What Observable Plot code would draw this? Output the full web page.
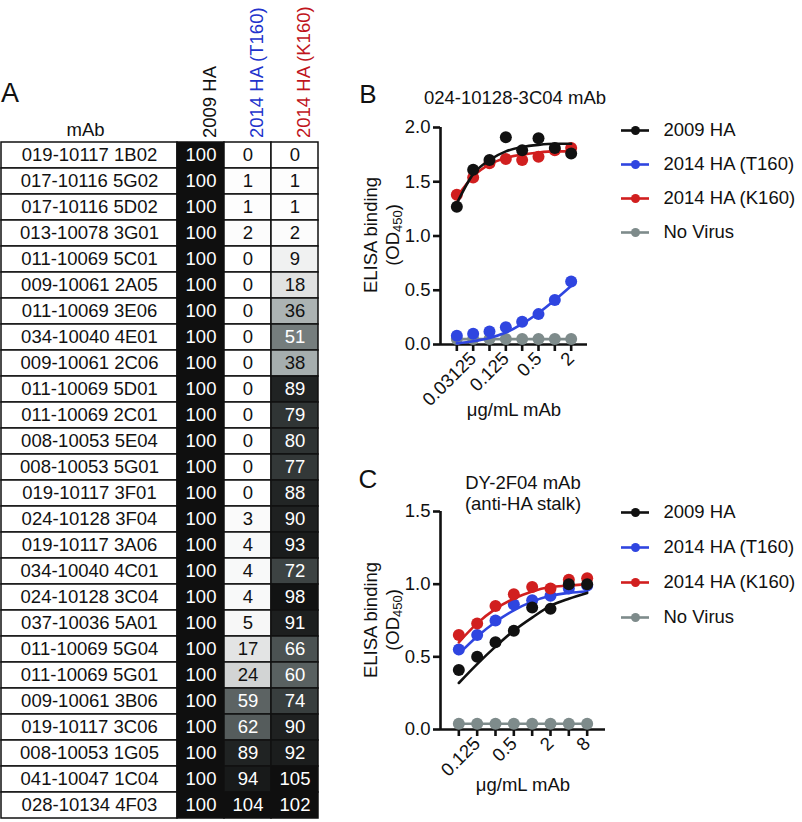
<!DOCTYPE html>
<html>
<head>
<meta charset="utf-8">
<script src="https://cdn.jsdelivr.net/npm/d3@7"></script>
<script src="https://cdn.jsdelivr.net/npm/@observablehq/plot@0.6"></script>
<style>
  html, body { margin: 0; padding: 0; background: #fff; }
  body { width: 802px; height: 822px; position: relative; overflow: hidden;
         font-family: "Liberation Sans", Arial, Helvetica, sans-serif; color: #111; }
  .box { position: absolute; }
  .lbl { position: absolute; white-space: nowrap; transform: translate(-50%, -50%); line-height: 1; }
  .rot { transform: translate(-50%, -50%) rotate(-90deg); }
  sub { font-size: 70%; vertical-align: -0.25em; line-height: 0; }
</style>
</head>
<body>
<div class="lbl" style="left:10px;top:93px;font-size:27px;">A</div>
<div class="lbl" style="left:368px;top:94px;font-size:26px;">B</div>
<div class="lbl" style="left:368px;top:479px;font-size:26px;">C</div>
<div class="lbl" style="left:515px;top:98px;font-size:18.5px;">024-10128-3C04 mAb</div>
<div class="lbl" style="left:523px;top:483px;font-size:18.5px;">DY-2F04 mAb</div>
<div class="lbl" style="left:523px;top:504px;font-size:18.5px;">(anti-HA stalk)</div>
<div class="lbl rot" style="left:371px;top:235px;font-size:18.5px;">ELISA binding</div>
<div class="lbl rot" style="left:393px;top:235px;font-size:18.5px;">(OD<sub>450</sub>)</div>
<div class="lbl rot" style="left:371px;top:620px;font-size:18.5px;">ELISA binding</div>
<div class="lbl rot" style="left:393px;top:620px;font-size:18.5px;">(OD<sub>450</sub>)</div>

<div id="names" class="box" style="left:0;top:0;"></div>
<div id="heat" class="box" style="left:176px;top:0;"></div>
<div id="plotB" class="box" style="left:360px;top:100px;"></div>
<div id="plotC" class="box" style="left:360px;top:480px;"></div>
<div id="legB" class="box" style="left:615px;top:115px;"></div>
<div id="legC" class="box" style="left:615px;top:497px;"></div>

<script>
// ---------- Panel A data ----------
const mAbs = [
  "019-10117 1B02","017-10116 5G02","017-10116 5D02","013-10078 3G01","011-10069 5C01",
  "009-10061 2A05","011-10069 3E06","034-10040 4E01","009-10061 2C06","011-10069 5D01",
  "011-10069 2C01","008-10053 5E04","008-10053 5G01","019-10117 3F01","024-10128 3F04",
  "019-10117 3A06","034-10040 4C01","024-10128 3C04","037-10036 5A01","011-10069 5G04",
  "011-10069 5G01","009-10061 3B06","019-10117 3C06","008-10053 1G05","041-10047 1C04",
  "028-10134 4F03"
];
const columns = ["2009 HA", "2014 HA (T160)", "2014 HA (K160)"];
const ha2009 = [100,100,100,100,100,100,100,100,100,100,100,100,100,100,100,100,100,100,100,100,100,100,100,100,100,100];
const haT160 = [0,1,1,2,0,0,0,0,0,0,0,0,0,0,3,4,4,4,5,17,24,59,62,89,94,104];
const haK160 = [0,1,1,2,9,18,36,51,38,89,79,80,77,88,90,93,72,98,91,66,60,74,90,92,105,102];

// ---------- Panel B data ----------
const concB = [0.015625, 0.03125, 0.0625, 0.125, 0.25, 0.5, 1, 2];
const tickLabelsB = ["", "0.03125", "", "0.125", "", "0.5", "", "2"];
const bPts2009 = [1.27, 1.61, 1.70, 1.91, 1.79, 1.90, 1.81, 1.76];
const bPtsT160 = [0.08, 0.10, 0.12, 0.16, 0.21, 0.28, 0.41, 0.58];
const bPtsK160 = [1.38, 1.54, 1.67, 1.71, 1.70, 1.73, 1.79, 1.81];
const bPtsNoVirus = [0.05, 0.05, 0.05, 0.05, 0.05, 0.05, 0.05, 0.05];
const bFit2009 = [1.30, 1.57, 1.70, 1.78, 1.82, 1.84, 1.85, 1.85];
const bFitT160 = [0.01, 0.03, 0.06, 0.11, 0.19, 0.29, 0.41, 0.54];
const bFitK160 = [1.36, 1.55, 1.66, 1.72, 1.75, 1.77, 1.78, 1.78];
const yTicksB = [0, 0.5, 1.0, 1.5, 2.0];

// ---------- Panel C data ----------
const concC = [0.0625, 0.125, 0.25, 0.5, 1, 2, 4, 8];
const tickLabelsC = ["", "0.125", "", "0.5", "", "2", "", "8"];
const cPts2009 = [0.41, 0.50, 0.60, 0.68, 0.84, 0.83, 1.00, 1.00];
const cPtsT160 = [0.55, 0.65, 0.75, 0.86, 0.89, 0.92, 0.97, 0.99];
const cPtsK160 = [0.65, 0.73, 0.85, 0.93, 0.98, 0.97, 1.03, 1.04];
const cPtsNoVirus = [0.04, 0.04, 0.04, 0.04, 0.04, 0.04, 0.04, 0.04];
const cFit2009 = [0.32, 0.45, 0.57, 0.68, 0.77, 0.85, 0.90, 0.94];
const cFitT160 = [0.52, 0.64, 0.74, 0.82, 0.88, 0.92, 0.94, 0.95];
const cFitK160 = [0.60, 0.73, 0.83, 0.90, 0.95, 0.98, 0.99, 1.00];
const yTicksC = [0, 0.5, 1.0, 1.5];

const seriesNames = ["2009 HA", "2014 HA (T160)", "2014 HA (K160)", "No Virus"];
const seriesColors = ["#111111", "#2f45e0", "#d11f1f", "#7e8b8b"];
const headerColors = ["#111111", "#2233cc", "#c0141c"];

const FONT = '"Liberation Sans", Arial, Helvetica, sans-serif';
const baseStyle = {fontFamily: FONT, fontSize: "18.5px", background: "transparent", overflow: "visible", color: "#111"};

// ---------- Panel A: names column ----------
const namesPlot = Plot.plot({
  width: 177, height: 822,
  marginLeft: 1, marginRight: 0, marginTop: 141.5, marginBottom: 4.5,
  style: baseStyle,
  x: {domain: ["mAb"], padding: 0, axis: null},
  y: {domain: mAbs, padding: 0, axis: null},
  marks: [
    Plot.cell(mAbs, {x: () => "mAb", y: d => d, fill: "white", stroke: "#111", strokeWidth: 1.5, inset: 0}),
    Plot.text(mAbs, {x: () => "mAb", y: d => d, text: d => d, fill: "#111"}),
    Plot.text(["mAb"], {frameAnchor: "top", lineAnchor: "middle", dx: -4, dy: -12, text: d => d, fill: "#111"})
  ]
});
document.getElementById("names").appendChild(namesPlot);

// ---------- Panel A: heat cells ----------
const colValues = [ha2009, haT160, haK160];
const heatRows = [];
columns.forEach((c, j) => mAbs.forEach((m, i) => heatRows.push({mAb: m, col: c, value: colValues[j][i]})));

const heatPlot = Plot.plot({
  width: 144, height: 822,
  marginLeft: 0, marginRight: 2, marginTop: 141.5, marginBottom: 4.5,
  style: baseStyle,
  x: {domain: columns, padding: 0, axis: null},
  y: {domain: mAbs, padding: 0, axis: null},
  color: {type: "linear", domain: [0, 20, 40, 55, 75, 100], range: ["#ffffff", "#dedfdf", "#a0a8a8", "#656d6d", "#363c3c", "#0f0f0f"], clamp: true},
  marks: [
    Plot.cell(heatRows, {x: "col", y: "mAb", fill: "value", stroke: "#111", strokeWidth: 1.5, inset: 0}),
    Plot.text(heatRows.filter(d => d.value < 50), {x: "col", y: "mAb", text: "value", fill: "#111"}),
    Plot.text(heatRows.filter(d => d.value >= 50), {x: "col", y: "mAb", text: "value", fill: "#ffffff"}),
    ...columns.map((c, j) => Plot.text([c], {x: d => d, frameAnchor: "top", text: d => d, rotate: -90, textAnchor: "start", dx: 2, dy: -4, fill: headerColors[j]}))
  ]
});
document.getElementById("heat").appendChild(heatPlot);

// ---------- helpers for B and C ----------
function longTable(conc, arrays) {
  const out = [];
  arrays.forEach((arr, k) => arr.forEach((v, i) => out.push({conc: conc[i], value: v, series: seriesNames[k]})));
  return out;
}

function dosePlot({conc, tickLabels, pts, fits, yTicks, yDomain, xDomain, width, height, marginTop, marginBottom, marginRight, labelDy}) {
  const ptsRows = longTable(conc, pts);
  const fitRows = longTable(conc, fits);
  const noVirus = ptsRows.filter(d => d.series === "No Virus");
  const order = ["2014 HA (T160)", "2014 HA (K160)", "2009 HA"];
  const marks = [
    Plot.ruleY([yDomain[0]], {stroke: "#111", strokeWidth: 2.6}),
    Plot.ruleX([xDomain[0]], {stroke: "#111", strokeWidth: 2.6}),
    Plot.axisY({ticks: yTicks, tickFormat: d3.format(".1f"), tickSize: 7, tickPadding: 3, strokeWidth: 2.6, label: null, fill: "#111"}),
    Plot.axisX({ticks: conc, tickFormat: (d) => tickLabels[conc.indexOf(d)], tickRotate: -45, tickSize: 7, tickPadding: 4, strokeWidth: 2.6, label: null, fill: "#111"}),
    Plot.line(noVirus, {x: "conc", y: "value", stroke: "series", strokeWidth: 2.6}),
    Plot.dot(noVirus, {x: "conc", y: "value", fill: "series", r: 6})
  ];
  order.forEach(s => {
    marks.push(Plot.line(fitRows.filter(d => d.series === s), {x: "conc", y: "value", stroke: "series", strokeWidth: 2.6, curve: "monotone-x"}));
    marks.push(Plot.dot(ptsRows.filter(d => d.series === s), {x: "conc", y: "value", fill: "series", r: 6}));
  });
  marks.push(Plot.text(["μg/mL mAb"], {frameAnchor: "bottom", lineAnchor: "middle", dy: labelDy, text: d => d, fill: "#111"}));
  return Plot.plot({
    width, height, marginLeft: 80, marginRight, marginTop, marginBottom,
    style: baseStyle,
    x: {type: "log", base: 2, domain: xDomain},
    y: {domain: yDomain},
    color: {domain: seriesNames, range: seriesColors},
    marks
  });
}

document.getElementById("plotB").appendChild(dosePlot({
  conc: concB, tickLabels: tickLabelsB,
  pts: [bPts2009, bPtsT160, bPtsK160, bPtsNoVirus],
  fits: [bFit2009, bFitT160, bFitK160],
  yTicks: yTicksB, yDomain: [0, 2], xDomain: [0.0078125, 4],
  width: 240, height: 330, marginTop: 27, marginBottom: 86, marginRight: 13, labelDy: 66
}));

document.getElementById("plotC").appendChild(dosePlot({
  conc: concC, tickLabels: tickLabelsC,
  pts: [cPts2009, cPtsT160, cPtsK160, cPtsNoVirus],
  fits: [cFit2009, cFitT160, cFitK160],
  yTicks: yTicksC, yDomain: [0, 1.5], xDomain: [0.03125, 16],
  width: 250, height: 330, marginTop: 31, marginBottom: 81, marginRight: 5, labelDy: 56
}));

// ---------- legends ----------
function legendPlot(marginTop, marginBottom) {
  return Plot.plot({
    width: 187, height: 150,
    marginLeft: 6, marginRight: 153, marginTop, marginBottom,
    style: baseStyle,
    x: {domain: [0, 1], axis: null},
    y: {type: "point", domain: seriesNames, padding: 0, axis: null},
    color: {domain: seriesNames, range: seriesColors},
    marks: [
      Plot.ruleY(seriesNames, {y: d => d, x1: 0, x2: 1, stroke: d => d, strokeWidth: 2.6}),
      Plot.dot(seriesNames, {x: 0.5, y: d => d, fill: d => d, r: 4.5}),
      Plot.text(seriesNames, {x: 1, y: d => d, text: d => d, dx: 14, textAnchor: "start", fill: "#111"})
    ]
  });
}
document.getElementById("legB").appendChild(legendPlot(14, 33));
document.getElementById("legC").appendChild(legendPlot(14, 30));
</script>
</body>
</html>
